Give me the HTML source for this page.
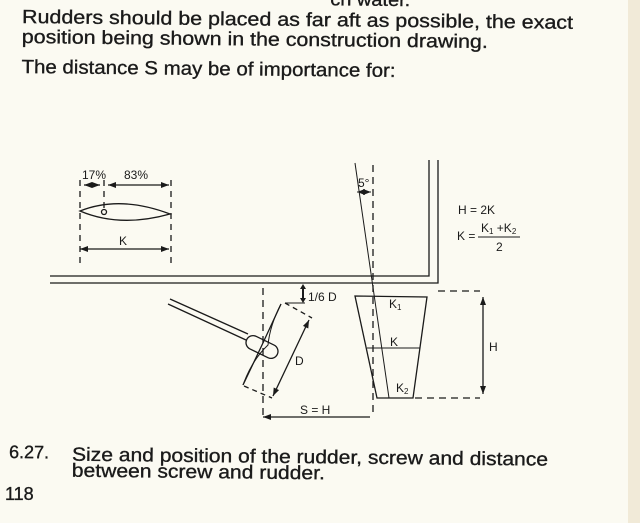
<!DOCTYPE html>
<html><head><meta charset="utf-8"><style>
html,body{margin:0;padding:0;background:#fbfaf2;}
svg{display:block;}
text{font-family:"Liberation Sans",sans-serif;fill:#1a1a1a;}
.t{stroke:#1a1a1a;stroke-width:0.35;}
</style></head><body>
<svg width="640" height="523" viewBox="0 0 640 523" xmlns="http://www.w3.org/2000/svg">
<rect width="640" height="523" fill="#fbfaf2"/>
<rect x="628" y="0" width="12" height="523" fill="#f1ead8"/>
<defs>
<marker id="a" markerWidth="8" markerHeight="6" refX="8" refY="3" orient="auto" markerUnits="userSpaceOnUse"><path d="M0,0 L8,3 L0,6z" fill="#1a1a1a"/></marker>
<marker id="b" markerWidth="8" markerHeight="6" refX="0" refY="3" orient="auto" markerUnits="userSpaceOnUse"><path d="M8,0 L0,3 L8,6z" fill="#1a1a1a"/></marker>
</defs>
<!-- top text -->
<g transform="rotate(0.6 22 23)">
<text class="t" x="330" y="2" font-size="18" textLength="80" lengthAdjust="spacingAndGlyphs">ch water.</text>
<text class="t" x="22" y="23" font-size="19" textLength="551" lengthAdjust="spacingAndGlyphs">Rudders should be placed as far aft as possible, the exact</text>
<text class="t" x="22" y="43" font-size="19" textLength="466" lengthAdjust="spacingAndGlyphs">position being shown in the construction drawing.</text>
<text class="t" x="22" y="73" font-size="19" textLength="374" lengthAdjust="spacingAndGlyphs">The distance S may be of importance for:</text>
</g>

<g stroke="#1a1a1a" fill="none" stroke-width="1.3">
<line x1="80" y1="180" x2="80" y2="268" stroke-dasharray="6,5"/>
<line x1="104" y1="180" x2="104" y2="208" stroke-dasharray="6,5"/>
<line x1="171" y1="180" x2="171" y2="268" stroke-dasharray="6,5"/>
<line x1="84" y1="185" x2="100" y2="185" marker-start="url(#b)" marker-end="url(#a)"/>
<line x1="108" y1="185" x2="169" y2="185" marker-start="url(#b)" marker-end="url(#a)"/>
<path d="M80,211 Q120,195 170,214 Q120,228 80,211z"/>
<circle cx="104" cy="212" r="2.5"/>
<line x1="80" y1="249" x2="169" y2="249" marker-start="url(#b)" marker-end="url(#a)"/>
<polyline points="50,276 429,276 429,160"/>
<polyline points="50,283 438,283 438,160"/>
<line x1="373" y1="165" x2="373" y2="412" stroke-dasharray="7,5"/>
<line x1="355" y1="163" x2="389" y2="398" stroke-width="1"/>
<line x1="357" y1="192" x2="371" y2="192" marker-start="url(#b)" marker-end="url(#a)" stroke-width="1"/>
<polygon points="355,296 427,297 413,398 377,398"/>
<line x1="367" y1="348" x2="420" y2="348" stroke-width="0.9"/>
<line x1="438" y1="291" x2="480" y2="291" stroke-dasharray="7,5"/>
<line x1="415" y1="398" x2="480" y2="398" stroke-dasharray="7,5"/>
<line x1="483" y1="297" x2="483" y2="394" marker-start="url(#b)" marker-end="url(#a)"/>
<line x1="170" y1="299" x2="248" y2="334"/>
<line x1="168" y1="304" x2="246" y2="340"/>
<rect x="245" y="340" width="34" height="14" rx="7" transform="rotate(26 262 347)" fill="#fbfaf2"/>
<path d="M281,304 L262,345 L243,385"/>
<path d="M281,304 Q270,325 268,345 Q252,360 243,385" stroke-width="1"/>
<line x1="263" y1="288" x2="263" y2="420" stroke-dasharray="7,5"/>
<line x1="285" y1="303" x2="312" y2="318" stroke-dasharray="5,4"/>
<line x1="244" y1="386" x2="272" y2="398" stroke-dasharray="5,4"/>
<line x1="309" y1="320" x2="273" y2="396" marker-start="url(#b)" marker-end="url(#a)"/>
<line x1="285" y1="303" x2="305" y2="303" stroke-width="1"/>
<line x1="263" y1="417" x2="370" y2="417" marker-start="url(#b)"/>
</g>
<path d="M300,289 L303,284 L306,289z M300,298 L303,303 L306,298z" fill="#1a1a1a"/>
<line x1="303" y1="287" x2="303" y2="299" stroke="#1a1a1a" stroke-width="2"/>

<g font-size="12">
<text x="82" y="179">17%</text>
<text x="124" y="179">83%</text>
<text x="119" y="245">K</text>
<text x="358" y="187">5°</text>
<text x="308" y="301">1/6 D</text>
<text x="295" y="365">D</text>
<text x="300" y="414">S = H</text>
<text x="489" y="351">H</text>
<text x="389" y="308">K<tspan font-size="8" dy="2">1</tspan></text>
<text x="390" y="346">K</text>
<text x="396" y="392">K<tspan font-size="8" dy="2">2</tspan></text>
<text x="458" y="214">H = 2K</text>
<text x="457" y="240">K =</text>
<text x="481" y="232">K<tspan font-size="8" dy="2">1</tspan><tspan dy="-2"> +K</tspan><tspan font-size="8" dy="2">2</tspan></text>
<text x="496" y="251">2</text>
</g>
<line x1="478" y1="237" x2="520" y2="237" stroke="#1a1a1a" stroke-width="1"/>

<g transform="rotate(0.6 9 458)">
<text class="t" x="9" y="458" font-size="18">6.27.</text>
<text class="t" x="72" y="460" font-size="19" textLength="476" lengthAdjust="spacingAndGlyphs">Size and position of the rudder, screw and distance</text>
<text class="t" x="72" y="476" font-size="19" textLength="253" lengthAdjust="spacingAndGlyphs">between screw and rudder.</text>
</g>
<text class="t" x="5" y="500" font-size="18">118</text>
</svg>
</body></html>
